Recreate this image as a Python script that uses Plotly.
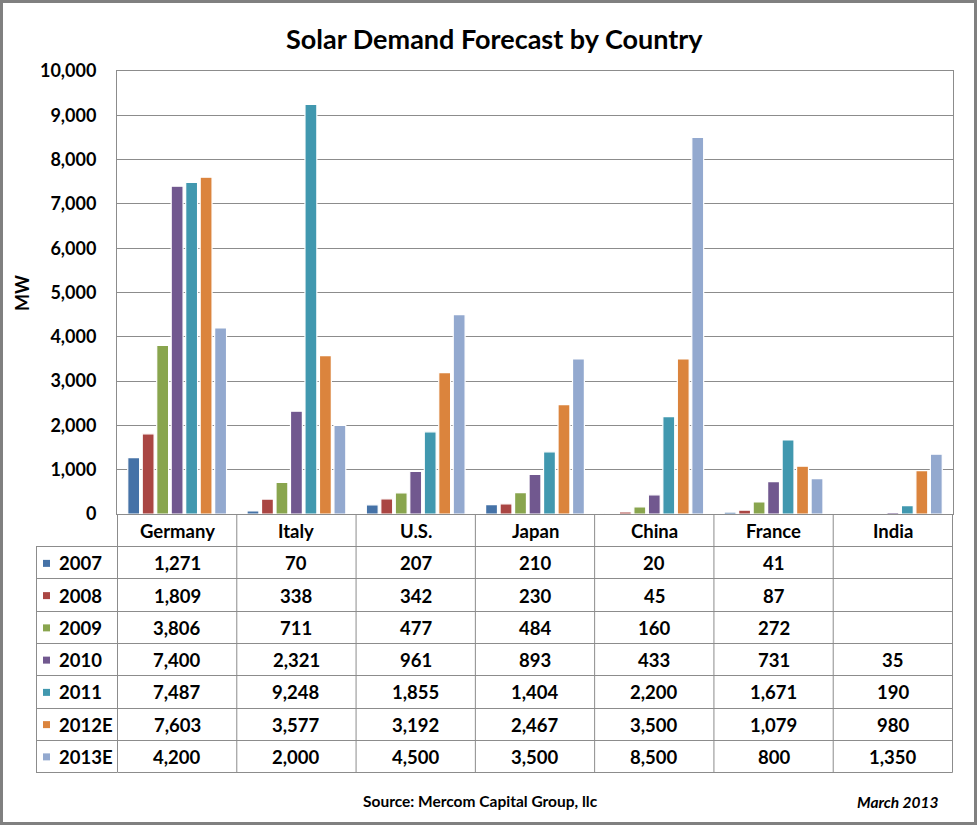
import plotly.graph_objects as go

countries = ["Germany", "Italy", "U.S.", "Japan", "China", "France", "India"]
series_names = ["2007", "2008", "2009", "2010", "2011", "2012E", "2013E"]
v2007 = [1271, 70, 207, 210, 20, 41, None]
v2008 = [1809, 338, 342, 230, 45, 87, None]
v2009 = [3806, 711, 477, 484, 160, 272, None]
v2010 = [7400, 2321, 961, 893, 433, 731, 35]
v2011 = [7487, 9248, 1855, 1404, 2200, 1671, 190]
v2012 = [7603, 3577, 3192, 2467, 3500, 1079, 980]
v2013 = [4200, 2000, 4500, 3500, 8500, 800, 1350]
series_values = [v2007, v2008, v2009, v2010, v2011, v2012, v2013]
colors = ["#4572A7", "#AA4643", "#89A54E", "#71588F", "#4198AF", "#DB843D", "#93A9CF"]
y_ticks = list(range(0, 10001, 1000))

W, H = 977, 825
L, R, T, B = 117, 953, 71, 514
FONT = "Lato"
TS = 18.5

def px(x):
    return (x - L) / (R - L)

def py(y):
    return (B - y) / (B - T)

fig = go.Figure()
for name, vals, c in zip(series_names, series_values, colors):
    fig.add_trace(go.Bar(x=countries, y=vals, name=name,
                         marker=dict(color=c, line=dict(color="white", width=1.2))))

shapes = []
annotations = []
row_h = (772 - 514) / 8
grid_col = "#8C8C8C"
n = len(countries)
# horizontal table lines
for i in range(1, 9):
    yy = round(B + i * row_h) + 0.5
    shapes.append(dict(type="line", xref="x", yref="paper", x0=-0.5, x1=n - 0.5,
                       y0=py(yy), y1=py(yy), line=dict(color=grid_col, width=1)))
    shapes.append(dict(type="line", xref="paper", yref="paper", x0=px(36), x1=0,
                       y0=py(yy), y1=py(yy), line=dict(color=grid_col, width=1)))
# vertical table lines at category boundaries
for k in range(n + 1):
    shapes.append(dict(type="line", xref="x", yref="paper", x0=k - 0.5, x1=k - 0.5,
                       y0=py(B), y1=py(round(B + 8 * row_h) + 0.5), line=dict(color=grid_col, width=1)))
shapes.append(dict(type="line", xref="paper", yref="paper", x0=px(36.5), x1=px(36.5),
                   y0=py(round(B + row_h) + 0.5), y1=py(round(B + 8 * row_h) + 0.5),
                   line=dict(color=grid_col, width=1)))
# header labels
for ci, cname in enumerate(countries):
    annotations.append(dict(x=cname, xref="x", y=py(B + row_h / 2 + 1), yref="paper",
                            xanchor="center", yanchor="middle",
                            text=cname, showarrow=False,
                            font=dict(family=FONT, size=TS, color="black", weight="bold")))
# rows
for ri, (name, vals, c) in enumerate(zip(series_names, series_values, colors)):
    yc = B + row_h * (ri + 1.5) + 1
    shapes.append(dict(type="rect", xref="paper", yref="paper", x0=px(43), x1=px(50),
                       y0=py(yc - 3.5), y1=py(yc + 3.5), fillcolor=c, line=dict(width=0)))
    annotations.append(dict(x=px(57), xref="paper", y=py(yc), yref="paper", text=name,
                            showarrow=False, xanchor="left", yanchor="middle",
                            font=dict(family=FONT, size=TS, color="black", weight="bold")))
    for ci, v in enumerate(vals):
        if v is None:
            continue
        annotations.append(dict(x=countries[ci], xref="x", y=py(yc), yref="paper",
                                xanchor="center", yanchor="middle",
                                text=f"{v:,}", showarrow=False,
                                font=dict(family=FONT, size=TS, color="black", weight="bold")))
# outer border
shapes.append(dict(type="rect", xref="paper", yref="paper", x0=px(1.5), x1=px(W - 1.5),
                   y0=py(1.5), y1=py(H - 1.5), line=dict(color="#808080", width=3)))

annotations.append(dict(x=px(494), xref="paper", y=py(38), yref="paper",
                        xanchor="center", yanchor="middle",
                        text="Solar Demand Forecast by Country", showarrow=False,
                        font=dict(family=FONT, size=27, color="black", weight="bold")))
annotations.append(dict(x=px(22), xref="paper", y=py(293), yref="paper", text="MW",
                        xanchor="center", yanchor="middle",
                        showarrow=False, textangle=-90,
                        font=dict(family=FONT, size=18, color="black", weight="bold")))
annotations.append(dict(x=px(480), xref="paper", y=py(801), yref="paper",
                        xanchor="center", yanchor="middle",
                        text="Source: Mercom Capital Group, llc", showarrow=False,
                        font=dict(family=FONT, size=15.5, color="black", weight="bold")))
annotations.append(dict(x=px(941), xref="paper", y=py(802), yref="paper", xanchor="right",
                        yanchor="middle",
                        text="<i>March 2013</i>", showarrow=False,
                        font=dict(family=FONT, size=15.5, color="black", weight="bold")))

fig.update_layout(
    width=W, height=H,
    margin=dict(l=L, r=W - R, t=T, b=H - B),
    paper_bgcolor="white", plot_bgcolor="white",
    barmode="group", bargap=0.15, bargroupgap=0.18,
    showlegend=False,
    shapes=shapes, annotations=annotations,
    font=dict(family=FONT),
)
fig.update_xaxes(showticklabels=False, showline=True, linecolor=grid_col, mirror=True,
                 showgrid=False, ticks="")
fig.update_yaxes(range=[0, 10000], tickvals=y_ticks, tickformat=",", showgrid=True,
                 gridcolor=grid_col, gridwidth=1, showline=True, linecolor=grid_col,
                 mirror=True, zeroline=False, ticks="", ticklabelstandoff=16,
                 tickfont=dict(family=FONT, size=18, color="black", weight="bold"))

fig.write_html("out.html")
